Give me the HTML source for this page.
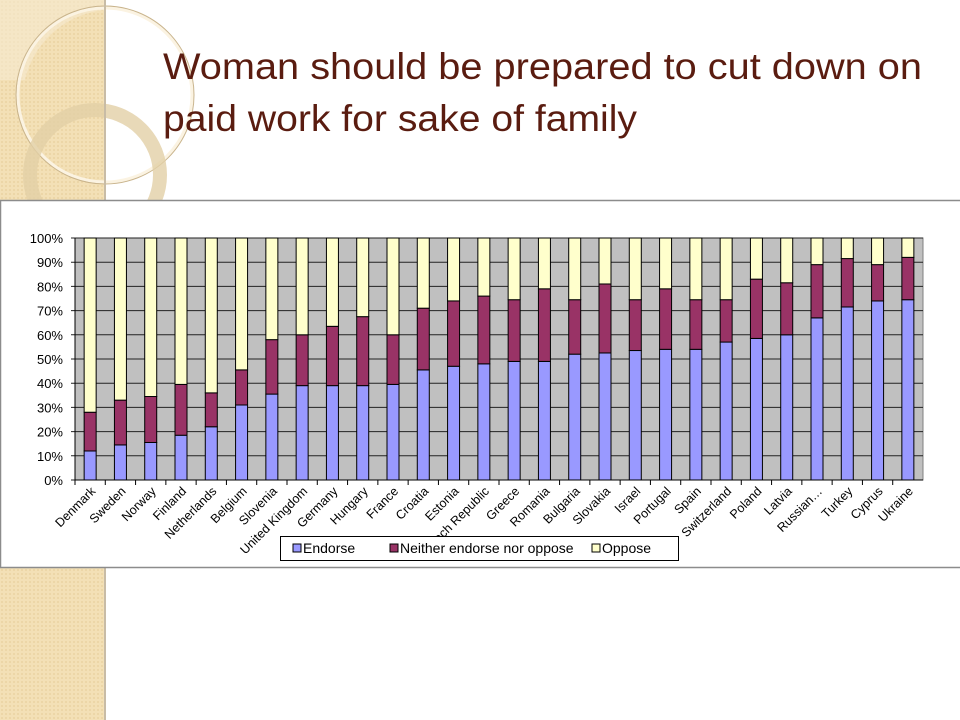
<!DOCTYPE html>
<html><head><meta charset="utf-8"><style>
html,body{margin:0;padding:0;width:960px;height:720px;overflow:hidden;background:#fff;}
svg{display:block;}
</style></head><body>
<svg width="960" height="720" viewBox="0 0 960 720" xmlns="http://www.w3.org/2000/svg">
  <defs>
    <pattern id="dots" width="4" height="4" patternUnits="userSpaceOnUse">
      <rect width="4" height="4" fill="#f3e0b6"/>
      <circle cx="2" cy="2" r="0.9" fill="#e8cf9c"/>
    </pattern>
  </defs>
  <g>
    <rect x="0" y="0" width="105" height="720" fill="url(#dots)"/>
    <path d="M105 10 A90 90 0 0 0 25 80 L0 80 L0 0 L105 0Z" fill="#f7ead0" opacity="0.6"/>
    <circle cx="105" cy="95" r="87" fill="none" stroke="#fbf3e2" stroke-width="3"/>
    <circle cx="105" cy="95" r="89" fill="none" stroke="#c9b48c" stroke-width="1"/>
    <circle cx="95" cy="175" r="65" fill="none" stroke="#e2cfa6" stroke-width="14" opacity="0.8"/>
    <rect x="104" y="0" width="2" height="720" fill="#c8bca6"/>
  </g>
  <g font-family="'Liberation Sans', sans-serif" font-size="37" fill="#5a1c10">
    <text x="163" y="79" textLength="759" lengthAdjust="spacingAndGlyphs">Woman should be prepared to cut down on</text>
    <text x="163" y="131" textLength="474" lengthAdjust="spacingAndGlyphs">paid work for sake of family</text>
  </g>
  <rect x="0.5" y="200.5" width="966" height="367" fill="#fff" stroke="#8c8c8c" stroke-width="1.5"/>
  <g id="chart" font-family="'Liberation Sans', Arial, sans-serif"></g>
</svg>
<script>
const categories=["Denmark","Sweden","Norway","Finland","Netherlands","Belgium","Slovenia","United Kingdom","Germany","Hungary","France","Croatia","Estonia","Czech Republic","Greece","Romania","Bulgaria","Slovakia","Israel","Portugal","Spain","Switzerland","Poland","Latvia","Russian…","Turkey","Cyprus","Ukraine"];
const endorse=[12,14.5,15.5,18.5,22,31,35.5,39,39,39,39.5,45.5,47,48,49,49,52,52.5,53.5,54,54,57,58.5,60,67,71.5,74,74.5];
const neither=[16,18.5,19,21,14,14.5,22.5,21,24.5,28.5,20.5,25.5,27,28,25.5,30,22.5,28.5,21,25,20.5,17.5,24.5,21.5,22,20,15,17.5];
const oppose=[72,67,65.5,60.5,64,54.5,42,40,36.5,32.5,40,29,26,24,25.5,21,25.5,19,25.5,21,25.5,25.5,17,18.5,11,8.5,11,8];
const yTicks=[0,10,20,30,40,50,60,70,80,90,100];
const seriesNames=["Endorse","Neither endorse nor oppose","Oppose"];
const seriesColors=["#9999ff","#993366","#ffffcc"];

const NS="http://www.w3.org/2000/svg";
const g=document.getElementById('chart');
const X0=75,X1=923,Y0=480,Y1=238;
const band=(X1-X0)/categories.length;
const xc=i=>X0+band*(i+0.5);
const y=v=>Y0-(v/100)*(Y0-Y1);
function mk(t,a){const e=document.createElementNS(NS,t);for(const k in a)e.setAttribute(k,a[k]);g.appendChild(e);return e;}

const bg=mk('rect',{x:X0,y:Y1,width:X1-X0,height:Y0-Y1,fill:'#c0c0c0',stroke:'#808080'});


yTicks.forEach(t=>{
  const l=mk('line',{x1:X0-4,x2:X1,y1:y(t),y2:y(t),stroke:'#222','stroke-width':1});
  
  
  const tx=mk('text',{x:X0-12,y:y(t)+5,'text-anchor':'end','font-size':13,fill:'#000'});
  tx.textContent=t+'%';
  
  
});
const series=[endorse,neither,oppose];
categories.forEach((c,i)=>{
  let base=0;
  const tot=endorse[i]+neither[i]+oppose[i];
  series.forEach((s,k)=>{
    const v=s[i]/tot*100;
    const r=mk('rect',{x:xc(i)-6,y:y(base+v),width:12,height:y(base)-y(base+v),fill:seriesColors[k],stroke:'#000','stroke-width':1});
    
    
    base+=v;
  });
  const tk=mk('line',{x1:X0+band*i,x2:X0+band*i,y1:Y0,y2:Y0+5,stroke:'#000'});
  
  
  const tx=mk('text',{x:xc(i)+6,y:Y0+12,'text-anchor':'end','font-size':12.5,fill:'#000',transform:`rotate(-45 ${xc(i)+6} ${Y0+12})`});
  tx.textContent=c;
  
  
});
const ax=mk('line',{x1:X0,x2:X1,y1:Y0,y2:Y0,stroke:'#000'});


const ay=mk('line',{x1:X0,x2:X0,y1:Y1,y2:Y0,stroke:'#000'});


const lg=mk('rect',{x:280.5,y:536.5,width:398,height:24,fill:'#fff',stroke:'#000'});


const lx=[302,399,601];
seriesNames.forEach((n,k)=>{
  const sq=mk('rect',{x:lx[k]-9,y:544,width:8,height:8,fill:seriesColors[k],stroke:'#000'});
  
  
  const t=mk('text',{x:lx[k]+1,y:553,'font-size':14,fill:'#000'});
  t.textContent=n;
  
  
});
</script>
</body></html>
